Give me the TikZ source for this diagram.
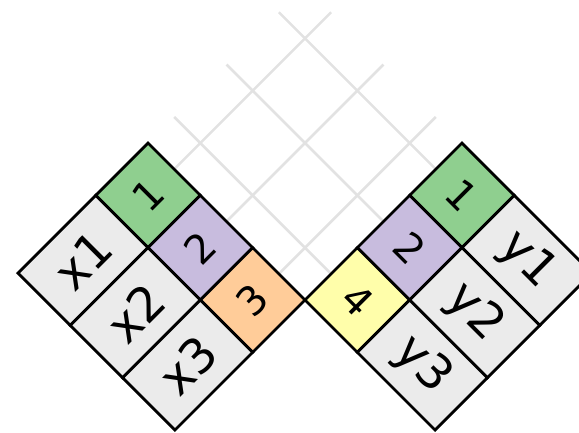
\documentclass[tikz,border=0pt]{standalone}
\usepackage{fontspec}
\setsansfont{DejaVu Sans}
\usepackage{xcolor}
\usepackage{tikz}
\usetikzlibrary{calc, backgrounds}
\definecolor{cellgreen}{RGB}{143,207,143}
\definecolor{cellpurple}{RGB}{200,188,222}
\definecolor{cellorange}{RGB}{255,204,153}
\definecolor{cellyellow}{RGB}{255,254,170}
\definecolor{cellgray}{RGB}{235,235,235}
\definecolor{gridgray}{RGB}{226,226,226}
\tikzset{
  cell/.style={rectangle, draw=black, line width=2.8pt, inner sep=0pt, outer sep=0pt,
               minimum width=74pt, minimum height=74pt, text=black,
               font=\sffamily\fontsize{40}{46}\selectfont},
  lab/.style={cell, fill=cellgray, minimum width=110pt,
              font=\sffamily\fontsize{48}{54}\selectfont},
  lattice/.style={draw=gridgray, line width=2.6pt}
}

\begin{document}
\begin{tikzpicture}[x=1pt, y=1pt]
  \useasboundingbox (-305,-132) rectangle (274,300);
  \coordinate (c) at (0,0);
  % left block: x column and matches
  \foreach \i/\t/\f in {1/1/cellgreen, 2/2/cellpurple, 3/3/cellorange} {
    \node[cell, fill=\f, rotate=45] (p\i) at ($(c)+(135:{(3.5-\i)*74})+(225:37)$) {\t};
    \node[lab, rotate=45] (x\i) at ($(c)+(135:{(3.5-\i)*74})+(225:129)$) {x\i};
  }
  % right block: y column and matches
  \foreach \i/\t/\f in {1/1/cellgreen, 2/2/cellpurple, 3/4/cellyellow} {
    \node[cell, fill=\f, rotate=-45] (q\i) at ($(c)+(45:{(3.5-\i)*74})+(315:37)$) {\t};
    \node[lab, rotate=-45] (y\i) at ($(c)+(45:{(3.5-\i)*74})+(315:129)$) {y\i};
  }
  % faint lattice between the blocks
  \begin{scope}[on background layer]
    \foreach \i in {1,2,3} {
      \draw[lattice] (p\i.east) -- ++(45:222);
      \draw[lattice] (q\i.west) -- ++(135:222);
    }
  \end{scope}
\end{tikzpicture}
\end{document}
